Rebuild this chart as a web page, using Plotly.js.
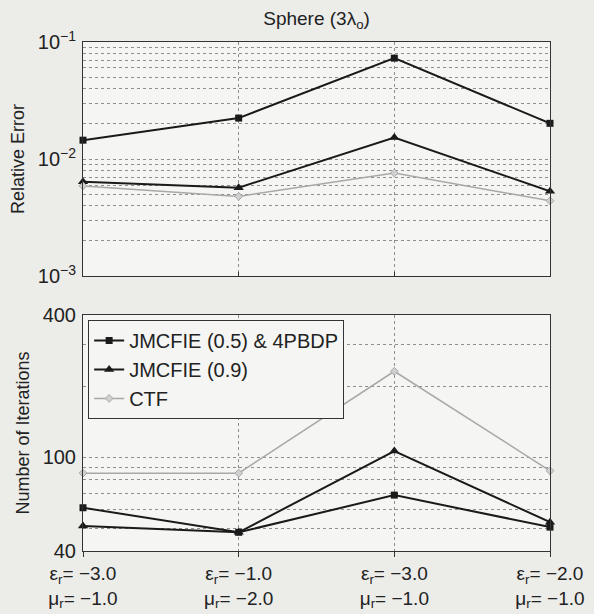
<!DOCTYPE html>
<html><head><meta charset="utf-8">
<script src="https://cdn.plot.ly/plotly-3.0.1.min.js"></script>
<style>body{margin:0;background:#ecece9}</style>
</head><body>
<div id="chart" style="width:594px;height:614px"></div>
<script>
const xPos = [0, 1, 2, 3];
const xLabels = [
  "ε<sub>r</sub>= −3.0<br>μ<sub>r</sub>= −1.0",
  "ε<sub>r</sub>= −1.0<br>μ<sub>r</sub>= −2.0",
  "ε<sub>r</sub>= −3.0<br>μ<sub>r</sub>= −1.0",
  "ε<sub>r</sub>= −2.0<br>μ<sub>r</sub>= −1.0"
];
const seriesNames = ["JMCFIE (0.5) & 4PBDP", "JMCFIE (0.9)", "CTF"];
const errJ05 = [0.0145, 0.0224, 0.0728, 0.0202];
const errJ09 = [0.0064, 0.0057, 0.0153, 0.0053];
const errCTF = [0.0059, 0.0048, 0.0076, 0.0044];
const itJ05 = [61, 48, 69, 50.5];
const itJ09 = [51, 48, 106, 53];
const itCTF = [85.5, 85.5, 231, 87.5];
const errTicks = [0.001,0.002,0.003,0.004,0.005,0.006,0.007,0.008,0.009,0.01,0.02,0.03,0.04,0.05,0.06,0.07,0.08,0.09,0.1];
const errTickText = ["10<sup>−3</sup>","","","","","","","","","10<sup>−2</sup>","","","","","","","","","10<sup>−1</sup>"];
const itTicks = [40,50,60,70,80,90,100,200,300,400];
const itTickText = ["40","","","","","","100","","","400"];

const black = "#1a1a1a", gray = "#a8a8a8";
const styles = [
  {line:{color:black,width:2}, marker:{symbol:"square",size:7,color:black}},
  {line:{color:black,width:2}, marker:{symbol:"triangle-up",size:9,color:black}},
  {line:{color:gray,width:1.5}, marker:{symbol:"diamond",size:6,color:"#d0d0d0",line:{color:gray,width:1}}}
];
const errData = [errJ05, errJ09, errCTF];
const itData = [itJ05, itJ09, itCTF];
const traces = [];
errData.forEach((d,i)=>traces.push(Object.assign({x:xPos,y:d,type:"scatter",mode:"lines+markers",name:seriesNames[i],showlegend:false,xaxis:"x",yaxis:"y",cliponaxis:false}, styles[i])));
itData.forEach((d,i)=>traces.push(Object.assign({x:xPos,y:d,type:"scatter",mode:"lines+markers",name:seriesNames[i],showlegend:true,xaxis:"x2",yaxis:"y2",cliponaxis:false}, styles[i])));

const font = {family:"Liberation Sans, Arial, sans-serif", color:"#222"};
const gridc = "#8f8f8f";
const xcommon = {range:[0,3], tickvals:xPos, showgrid:true, gridcolor:gridc, griddash:"dot", gridwidth:1,
  showline:true, mirror:true, linecolor:"#333", linewidth:1, zeroline:false, fixedrange:true};
const ycommon = {type:"log", showgrid:true, gridcolor:gridc, griddash:"dot", gridwidth:1, zeroline:false,
  showline:true, mirror:true, linecolor:"#333", ticks:"", automargin:false, ticklabelstandoff:2,
  tickfont:Object.assign({size:20}, font)};
const layout = {
  width:594, height:614,
  paper_bgcolor:"#ecece9", plot_bgcolor:"#f5f5f3",
  margin:{l:83, r:44, t:42, b:63},
  font:Object.assign({size:17}, font),
  title:{text:"Sphere (3λ<sub>o</sub>)", x:0.533, xanchor:"center", y:0.97, yanchor:"middle", font:Object.assign({size:19}, font)},
  showlegend:true,
  legend:{x:0.011, y:0.454, xanchor:"left", yanchor:"top", bgcolor:"#f5f5f3", bordercolor:"#333", borderwidth:1,
    font:Object.assign({size:20}, font), tracegroupgap:0, itemwidth:30},
  xaxis:Object.assign({}, xcommon, {domain:[0,1], anchor:"y", ticks:"inside", ticklen:4, tickcolor:"#333", showticklabels:false}),
  xaxis2:Object.assign({}, xcommon, {domain:[0,1], anchor:"y2", ticks:"outside", ticklen:5, tickcolor:"#333",
    ticktext:xLabels, tickfont:Object.assign({size:19}, font), automargin:false, ticklabelstandoff:0}),
  yaxis:Object.assign({}, ycommon, {domain:[0.540,1], anchor:"x", range:[-3,-1], tickvals:errTicks, ticktext:errTickText,
    title:{text:"Relative Error", standoff:8, font:Object.assign({size:18}, font)}}),
  yaxis2:Object.assign({}, ycommon, {domain:[0,0.4637], anchor:"x2", range:[Math.log10(40), Math.log10(400)], tickvals:itTicks, ticktext:itTickText,
    title:{text:"Number of Iterations", standoff:8, font:Object.assign({size:18}, font)}})
};
Plotly.newPlot("chart", traces, layout, {displayModeBar:false, staticPlot:true});
</script>
</body></html>
